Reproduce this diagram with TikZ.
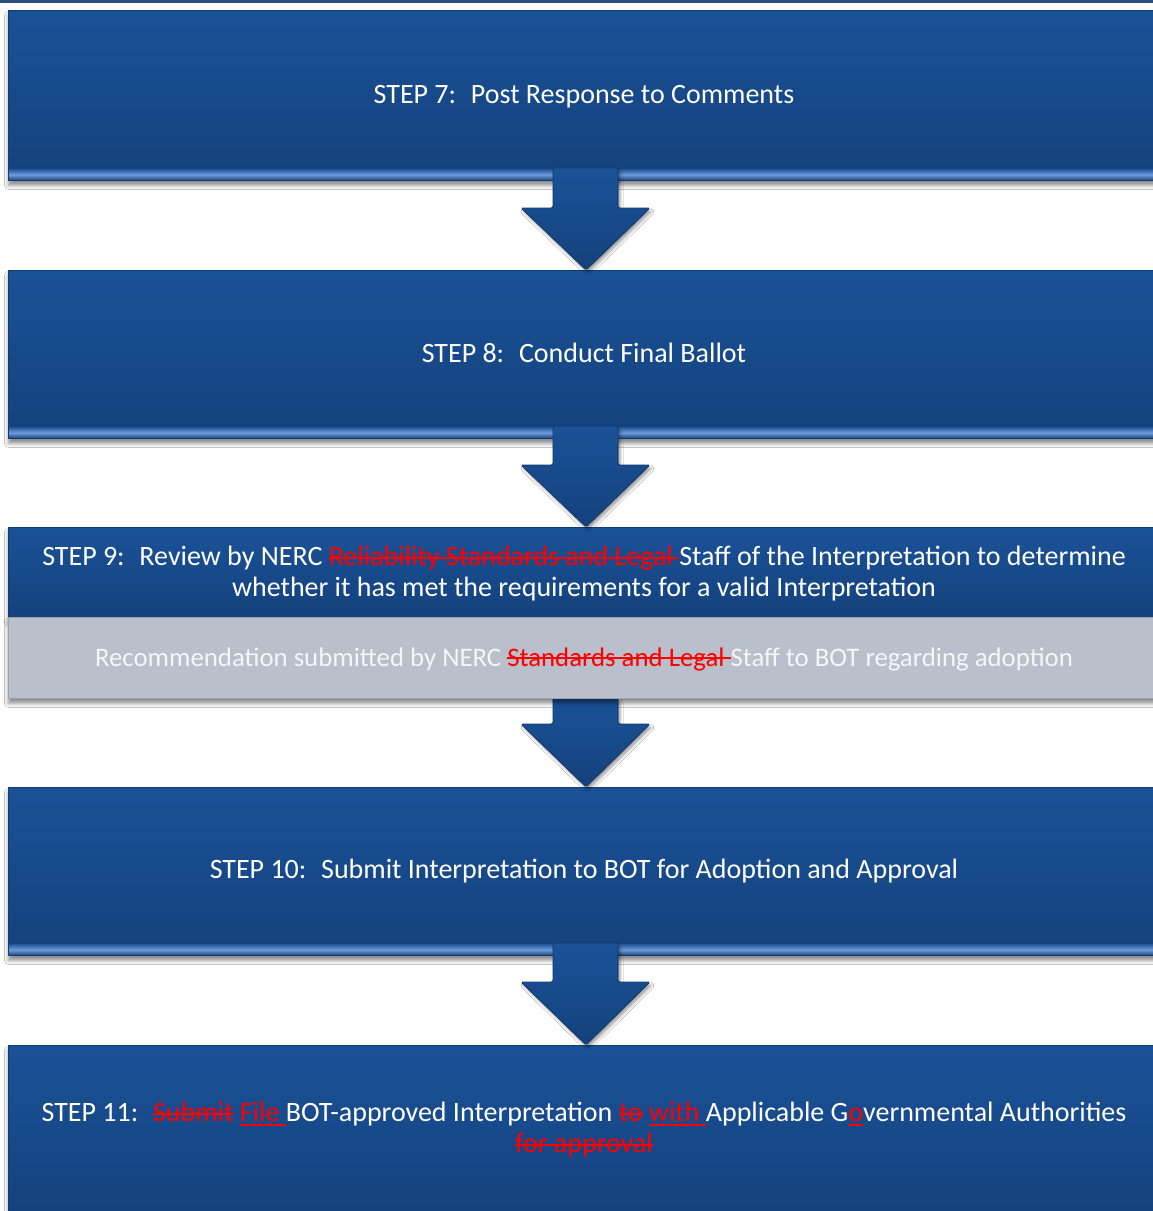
\documentclass[tikz,border=0pt]{standalone}
\usepackage{fontspec}
\setmainfont{Carlito}
\usetikzlibrary{shadows.blur,calc}
\definecolor{bluetop}{HTML}{1A5298}
\definecolor{bluebot}{HTML}{14417C}
\definecolor{blueedge}{HTML}{123B6F}
\definecolor{stripmid}{HTML}{6C9CDC}
\definecolor{stripend}{HTML}{2C5FA3}
\definecolor{grayfill}{HTML}{B9C0CB}
\definecolor{graytxt}{HTML}{F4F6F9}
\definecolor{redtxt}{HTML}{FF0000}
\newbox\markbox
\newdimen\markwd
\newcommand{\deltxt}[1]{{\color{redtxt}\setbox\markbox\hbox{#1}\markwd=\wd\markbox
  \rlap{\leaders\hrule height 8.6pt depth -6.8pt\hskip\markwd}\box\markbox}}
\newcommand{\instxt}[1]{{\color{redtxt}\setbox\markbox\hbox{#1}\markwd=\wd\markbox
  \rlap{\leaders\hrule height -3.0pt depth 4.8pt\hskip\markwd}\box\markbox}}
\begin{document}
\begin{tikzpicture}[x=1pt,y=-1pt,
  stepbox/.style={anchor=north west, minimum width=1160pt, inner sep=0pt,
    top color=bluetop, bottom color=bluebot, draw=blueedge, line width=0.8pt,
    blur shadow={shadow xshift=0pt, shadow yshift=-5pt, shadow blur radius=4pt, shadow opacity=45}},
  graybox/.style={anchor=north west, minimum width=1160pt, inner sep=0pt,
    fill=grayfill, draw=grayfill!85!black, line width=0.5pt,
    blur shadow={shadow xshift=0pt, shadow yshift=-5pt, shadow blur radius=4pt, shadow opacity=45}},
  strip/.style={top color=stripend, bottom color=stripend!80!black, middle color=stripmid},
  steptxt/.style={text=white, font=\fontsize{28}{31}\selectfont, align=center, inner sep=0pt},
  graytext/.style={text=graytxt, font=\fontsize{26.8}{31}\selectfont, align=center, inner sep=0pt},
  blockarrow/.style={top color=bluetop, bottom color=bluebot, draw=blueedge, line width=0.8pt,
    rounded corners=1.5pt,
    blur shadow={shadow xshift=2pt, shadow yshift=-3pt, shadow blur radius=3pt, shadow opacity=40}}
]
\useasboundingbox (0,0) rectangle (1153,1211);
\fill[white] (0,0) rectangle (1153,1211);
\clip (0,0) rectangle (1153,1211);
\fill[blueedge!90!white] (0,0) rectangle (1153,3);

% boxes
\node[stepbox, minimum height=170pt] (s7) at (8,10) {};
\node[stepbox, minimum height=168pt] (s8) at (8,270) {};
\node[stepbox, minimum height=90pt] (s9) at (8,527) {};
\node[stepbox, minimum height=168pt] (s10) at (8,787) {};
\node[stepbox, minimum height=175pt] (s11) at (8,1045) {};

% bottom highlight strips
\foreach \b in {s7,s8,s10}{
  \fill[strip] ($(\b.south west)+(1,-11)$) rectangle ($(\b.south east)+(0,-1)$);
}

% arrows
\foreach \ytop/\ybase/\ytip in {168/208/270, 426/465/527, 698/724/787, 943/982/1045}{
  \filldraw[blockarrow] (553,\ytop) -- (618,\ytop) -- (618,\ybase) -- (650,\ybase)
     -- (586,\ytip) -- (521,\ybase) -- (553,\ybase) -- cycle;
}

% gray recommendation box
\node[graybox, minimum height=81pt] (g9) at (8,617) {};

% texts
\node[steptxt] (t7) at (584,97) {STEP 7:~ Post Response to Comments};
\node[steptxt] (t8) at (584,353) {STEP 8:~ Conduct Final Ballot};
\node[steptxt] (t9) at (584,574) {STEP 9:~ Review by NERC \deltxt{Reliability Standards and Legal }Staff of the Interpretation to determine\\
  whether it has met the requirements for a valid Interpretation};
\node[graytext] (tg) at (584,659) {Recommendation submitted by NERC \deltxt{Standards and Legal }Staff to BOT regarding adoption};
\node[steptxt] (t10) at (584,871) {STEP 10:~ Submit Interpretation to BOT for Adoption and Approval};
\node[steptxt] (t11) at (584,1129.5) {STEP 11:~ \deltxt{Submit} \instxt{File }BOT-approved Interpretation \deltxt{to} \instxt{with }Applicable G\instxt{o}vernmental Authorities\\
  \deltxt{for approval}};
\end{tikzpicture}
\end{document}
